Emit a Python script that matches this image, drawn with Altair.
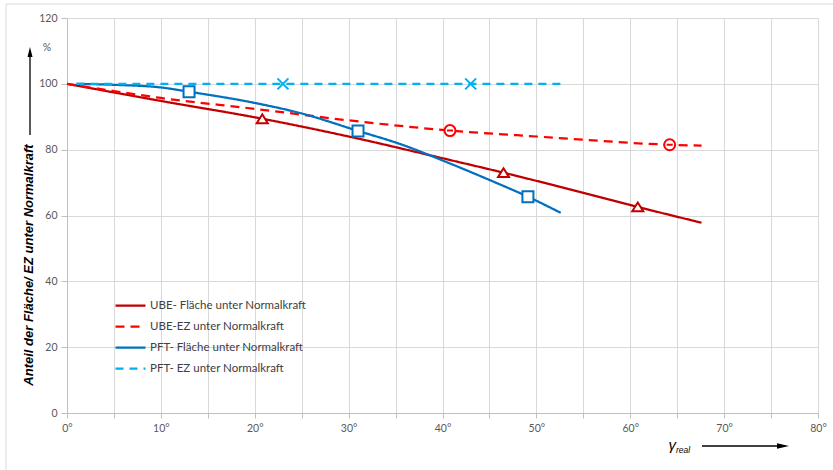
import altair as alt
import pandas as pd

# ---------------- data ----------------
s_ube_f = "UBE- Fläche unter Normalkraft"
s_ube_ez = "UBE-EZ unter Normalkraft"
s_pft_f = "PFT- Fläche unter Normalkraft"
s_pft_ez = "PFT- EZ unter Normalkraft"
series = [s_ube_f, s_ube_ez, s_pft_f, s_pft_ez]
colors = ["#C00000", "#FF0000", "#0070C0", "#00B0F0"]
dashes = [[1, 0], [9, 6], [1, 0], [8, 6]]

ube_f_x = [0, 10, 20.8, 30, 40, 46.5, 55, 60.8, 67.6]
ube_f_y = [100, 94.8, 89.4, 84.0, 77.4, 73.0, 66.9, 62.6, 57.8]
ube_ez_x = [0, 5, 10, 20, 30, 40.8, 50, 64.2, 67.6]
ube_ez_y = [100, 97.8, 95.7, 92.4, 88.9, 85.8, 84.0, 81.5, 81.2]
pft_f_x = [1, 5, 10, 13, 20, 25, 31, 35.5, 40.8, 45, 49.1, 52.6]
pft_f_y = [100, 99.7, 98.9, 97.6, 94.2, 91.0, 85.7, 81.7, 75.8, 70.8, 65.7, 60.8]
pft_ez_x = [1, 23, 43, 52.6]
pft_ez_y = [100, 100, 100, 100]

# markers
ube_f_mx = [20.8, 46.5, 60.8]
ube_f_my = [89.4, 73.0, 62.6]
ube_ez_mx = [40.8, 64.2]
ube_ez_my = [85.8, 81.5]
pft_f_mx = [13, 31, 49.1]
pft_f_my = [97.6, 85.7, 65.7]
pft_ez_mx = [23, 43]
pft_ez_my = [100, 100]

x_ticks = list(range(0, 81, 5))
y_ticks = [0, 20, 40, 60, 80, 100, 120]

# ---------------- tables ----------------
rows = []
for s, xs, ys in [(s_ube_f, ube_f_x, ube_f_y), (s_ube_ez, ube_ez_x, ube_ez_y),
                  (s_pft_f, pft_f_x, pft_f_y), (s_pft_ez, pft_ez_x, pft_ez_y)]:
    for a, b in zip(xs, ys):
        rows.append({"series": s, "x": a, "y": b})
lines_df = pd.DataFrame(rows)

tri = "M 0 -0.8 L 1 0.8 L -1 0.8 Z"
circ = "M 1 0 A 1 1 0 1 1 -1 0 A 1 1 0 1 1 1 0 M -0.55 0 L 0.55 0"
sq = "M -1 -1 L 1 -1 L 1 1 L -1 1 Z"
xx = "M -1 -1 L 1 1 M -1 1 L 1 -1"
marker_sets = [
    (ube_f_mx, ube_f_my, tri, colors[0]),
    (ube_ez_mx, ube_ez_my, circ, colors[1]),
    (pft_f_mx, pft_f_my, sq, colors[2]),
    (pft_ez_mx, pft_ez_my, xx, colors[3]),
]

W, H = 751, 395
FONT = "Lato"

xscale = alt.Scale(domain=[0, 80], nice=False, zero=False)
yscale = alt.Scale(domain=[0, 120], nice=False)

xaxis = alt.Axis(values=x_ticks, labelExpr="datum.value % 10 === 0 ? datum.value + '°' : ''",
                 title=None, grid=True, gridColor="#d9d9d9", tickColor="#bfbfbf",
                 domainColor="#bfbfbf", tickSize=5, labelFont=FONT, labelFontSize=10.5,
                 labelColor="#595959", labelPadding=5, labelOverlap=False, labelFlush=False)
yaxis = alt.Axis(values=y_ticks, title=None, grid=True, gridColor="#d9d9d9",
                 tickColor="#bfbfbf", domainColor="#bfbfbf", tickSize=6,
                 labelFont=FONT, labelFontSize=10.5, labelColor="#595959", labelPadding=4)

legend = alt.Legend(orient="none", legendX=52, legendY=276, title=None,
                    symbolType="M -1.5 0 L 1.5 0", symbolSize=400, symbolStrokeWidth=2.25,
                    labelFont=FONT, labelFontSize=11.5, labelColor="#404040",
                    rowPadding=4, labelOffset=8, padding=0)

lines = alt.Chart(lines_df).mark_line(interpolate="monotone", strokeWidth=2.25).encode(
    x=alt.X("x:Q", scale=xscale, axis=xaxis),
    y=alt.Y("y:Q", scale=yscale, axis=yaxis),
    color=alt.Color("series:N", scale=alt.Scale(domain=series, range=colors), legend=legend),
    strokeDash=alt.StrokeDash("series:N", scale=alt.Scale(domain=series, range=dashes), legend=legend),
)

point_layers = []
for mx, my, shp, col in marker_sets:
    dfm = pd.DataFrame({"x": mx, "y": my})
    point_layers.append(
        alt.Chart(dfm).mark_point(shape=shp, filled=False, fill="white", fillOpacity=1,
                                  stroke=col, strokeWidth=2, opacity=1, size=121).encode(
            x=alt.X("x:Q", scale=xscale),
            y=alt.Y("y:Q", scale=yscale),
        )
    )

dummy = pd.DataFrame({"a": [0]})
base = alt.Chart(dummy)

# frame lines
frame_top = base.mark_rule(color="#d9d9d9", strokeWidth=1).encode(
    x=alt.value(-61), x2=alt.value(770), y=alt.value(-14))
frame_left = base.mark_rule(color="#d9d9d9", strokeWidth=1).encode(
    x=alt.value(-61), y=alt.value(-14), y2=alt.value(460))

# y arrow
yarrow = base.mark_rule(color="black", strokeWidth=1.3).encode(
    x=alt.value(-37), y=alt.value(117), y2=alt.value(36))
yhead = base.mark_point(shape="M 0 -1 L 0.5 1 L -0.5 1 Z", filled=True, color="black",
                        size=100, opacity=1).encode(x=alt.value(-37), y=alt.value(34))
# x arrow
xarrow = base.mark_rule(color="black", strokeWidth=1.3).encode(
    x=alt.value(635), x2=alt.value(713), y=alt.value(428))
xhead = base.mark_point(shape="M 1 0 L -1 0.45 L -1 -0.45 Z", filled=True, color="black",
                        size=144, opacity=1).encode(x=alt.value(716), y=alt.value(428))

ytitle = base.mark_text(text="Anteil der Fläche/ EZ unter Normalkraft", angle=270,
                        font="Liberation Sans", fontStyle="italic", fontWeight="bold",
                        fontSize=13, color="black", align="center", baseline="middle").encode(
    x=alt.value(-38), y=alt.value(247))
pct = base.mark_text(text="%", font=FONT, fontSize=10.5, color="#595959",
                     align="center", baseline="middle").encode(x=alt.value(-20), y=alt.value(30))
gamma = base.mark_text(text="γ", font="Liberation Sans", fontStyle="italic", fontSize=15,
                       color="black", align="right", baseline="alphabetic").encode(
    x=alt.value(609), y=alt.value(432))
real = base.mark_text(text="real", font="Liberation Sans", fontStyle="italic", fontSize=8.5,
                      color="black", align="left", baseline="alphabetic").encode(
    x=alt.value(609), y=alt.value(435))

chart = alt.layer(
    frame_top, frame_left, lines, *point_layers, yarrow, yhead, xarrow, xhead,
    ytitle, pct, gamma, real
).properties(
    width=W, height=H,
    autosize=alt.AutoSizeParams(type="none"),
    padding={"left": 67, "top": 18, "right": 15, "bottom": 57},
    background="white",
).configure_view(strokeWidth=0)

chart.save("out.html", embed_options={"renderer": "svg", "actions": False})
